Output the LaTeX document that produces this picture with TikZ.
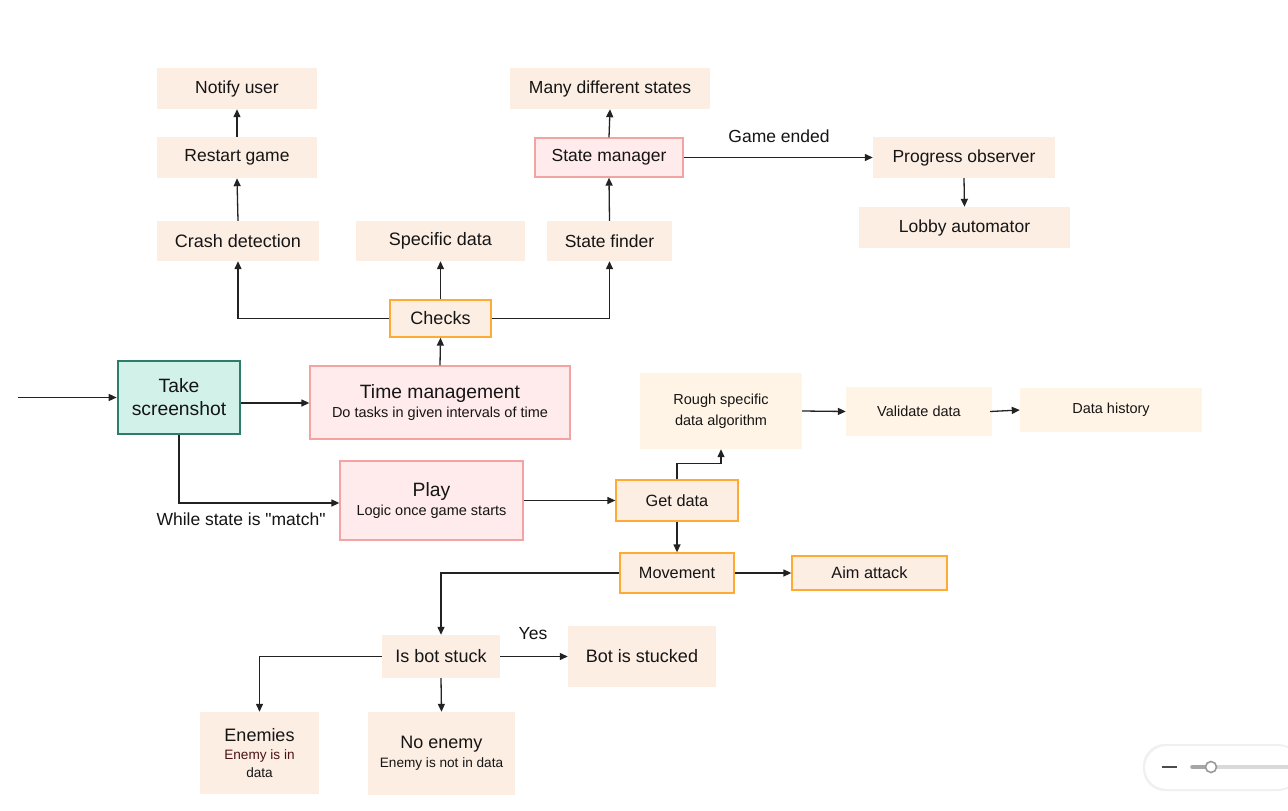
\documentclass[tikz,border=0pt]{standalone}
\usepackage{fontspec}
\setmainfont{Liberation Sans}[Ligatures=TeXOff]
\usetikzlibrary{arrows.meta}
\definecolor{peach}{HTML}{FDEEE4}
\definecolor{cream}{HTML}{FFF4E6}
\definecolor{pinkfill}{HTML}{FFEBEB}
\definecolor{pinkline}{HTML}{F4A3A3}
\definecolor{orangeline}{HTML}{FFAA33}
\definecolor{tealfill}{HTML}{D2F1E8}
\definecolor{tealline}{HTML}{2E7D6B}
\definecolor{txt}{HTML}{151515}
\definecolor{linec}{HTML}{222222}
\definecolor{maroon}{HTML}{4A1212}
\tikzset{
  box/.style={inner sep=0pt, align=center, text=txt, font=\fontsize{17.5}{22}\selectfont},
  plain/.style={box, fill=peach},
  big/.style={font=\fontsize{18}{22}\selectfont},
  creambox/.style={box, fill=cream, font=\fontsize{14.5}{21}\selectfont},
  orangebox/.style={box, fill=peach, draw=orangeline, line width=1.3pt, font=\fontsize{16.3}{20}\selectfont},
  pinkbox/.style={box, fill=pinkfill, draw=pinkline, line width=1.3pt},
  tealbox/.style={box, fill=tealfill, draw=tealline, line width=2.6pt},
  conn/.style={draw=linec, line width=1.3pt, -{Triangle[length=8pt,width=7pt]}},
  lbl/.style={inner sep=0pt, text=txt, font=\fontsize{17.5}{21}\selectfont}
}
\newcommand{\sm}[1]{{\fontsize{14.5}{17}\selectfont #1}}
\newcommand{\smb}[1]{{\fontsize{13.6}{17}\selectfont #1}}
\begin{document}
\begin{tikzpicture}[x=1pt,y=-1pt]
\useasboundingbox (0,0) rectangle (1288,811);
\fill[white] (0,0) rectangle (1288,811);

% top-left column
\node[plain, minimum width=160pt, minimum height=41pt] (notify) at (237,88.5) {Notify user};
\node[plain, minimum width=160pt, minimum height=41pt] (restart) at (237,157.5) {Restart game};
\node[plain, big, minimum width=162pt, minimum height=40pt] (crash) at (238,241) {Crash detection};
\node[plain, big, minimum width=169pt, minimum height=40pt] (specific) at (440.5,241) {Specific data};
\node[plain, minimum width=125pt, minimum height=40pt] (finder) at (609.5,241) {State finder};
\node[plain, minimum width=200pt, minimum height=41pt] (many) at (610,88.5) {Many different states};
\node[pinkbox, minimum width=148pt, minimum height=39pt] (manager) at (609,157.5) {State manager};
\node[plain, minimum width=182pt, minimum height=41pt] (progress) at (964,157.5) {Progress observer};
\node[plain, minimum width=211pt, minimum height=41pt] (lobby) at (964.5,227.5) {Lobby automator};
\node[orangebox, minimum width=101pt, minimum height=37pt, big] (checks) at (440.5,318.5) {Checks};

% middle
\node[tealbox, minimum width=122pt, minimum height=73pt, font=\fontsize{19.3}{23}\selectfont] (shot) at (179,397.5) {Take\\screenshot};
\coordinate (start) at (18,397.5);
\node[pinkbox, minimum width=260pt, minimum height=73pt, font=\fontsize{19.3}{19.5}\selectfont] (time) at (440,402.5) {Time management\\\sm{Do tasks in given intervals of time}};
\node[pinkbox, minimum width=183pt, minimum height=79pt, font=\fontsize{19.3}{19.5}\selectfont] (play) at (431.5,500.5) {Play\\\sm{Logic once game starts}};

% right data chain
\node[creambox, minimum width=162pt, minimum height=76pt] (rough) at (721,411) {Rough specific\\data algorithm};
\node[creambox, minimum width=146pt, minimum height=49pt] (validate) at (919,411.5) {Validate data};
\node[creambox, minimum width=182pt, minimum height=44pt] (history) at (1111,410) {Data history};
\node[orangebox, minimum width=122pt, minimum height=41pt] (getdata) at (677,500.5) {Get data};
\node[orangebox, minimum width=114pt, minimum height=40pt] (movement) at (677,573) {Movement};
\node[orangebox, minimum width=155pt, minimum height=34pt] (aim) at (869.5,573) {Aim attack};

% bottom
\node[plain, big, minimum width=118pt, minimum height=43pt] (stuck) at (441,656.5) {Is bot stuck};
\node[plain, big, minimum width=148pt, minimum height=61pt] (stucked) at (642,656.5) {Bot is stucked};
\node[plain, minimum width=119pt, minimum height=82pt, font=\fontsize{18}{18}\selectfont] (enemies) at (259.5,753) {Enemies\\\smb{\textcolor{maroon}{Enemy is in}}\\\smb{data}};
\node[plain, minimum width=147pt, minimum height=83pt, font=\fontsize{18}{19}\selectfont] (noenemy) at (441.5,753.5) {No enemy\\\smb{Enemy is not in data}};

% connectors
\draw[conn] (start) -- (shot.west);
\draw[conn] (shot.east |- 0,403) -- (time.west |- 0,403);
\draw[conn] (shot.south) |- (play.west |- 0,503);
\node[lbl] (matchlbl) at (241,519) {While state is "match"};
\draw[conn] (time.north) -- (checks.south);
\draw[conn] (checks.west) -| (crash.south);
\draw[conn] (checks.north) -- (specific.south);
\draw[conn] (checks.east) -| (finder.south);
\draw[conn] (crash.north) -- (restart.south);
\draw[conn] (restart.north) -- (notify.south);
\draw[conn] (finder.north) -- (manager.south);
\draw[conn] (manager.north) -- (many.south);
\draw[conn] (manager.east) -- (progress.west);
\node[lbl] (endlbl) at (779,136) {Game ended};
\draw[conn] (progress.south) -- (lobby.north);
\draw[conn] (play.east) -- (getdata.west);
\draw[conn] (getdata.north) -- ++(0,-16) -| (rough.south);
\draw[conn] (rough.east) -- (validate.west);
\draw[conn] ([xshift=-2pt]validate.east) -- (history.west);
\draw[conn] (getdata.south) -- (movement.north);
\draw[conn] (movement.east) -- (aim.west);
\draw[conn] (movement.west) -| (stuck.north);
\draw[conn] (stuck.east) -- (stucked.west);
\node[lbl] (yeslbl) at (533,634) {Yes};
\draw[conn] (stuck.west) -| (enemies.north);
\draw[conn] (stuck.south) -- (noenemy.north);

% zoom control (UI)
\begin{scope}
\fill[black!6, rounded corners=22pt] (1143,744) rectangle (1300,791);
\fill[white, rounded corners=22pt] (1145,746) rectangle (1300,789);
\draw[black!70, line width=2.5pt] (1162,767) -- (1177,767);
\draw[black!15, line width=3.5pt] (1192,767) -- (1288,767);
\draw[black!35, line width=3.5pt, line cap=round] (1192,767) -- (1210,767);
\draw[black!40, fill=white, line width=1.6pt] (1211,767) circle (5.5pt);
\end{scope}
\end{tikzpicture}
\end{document}
